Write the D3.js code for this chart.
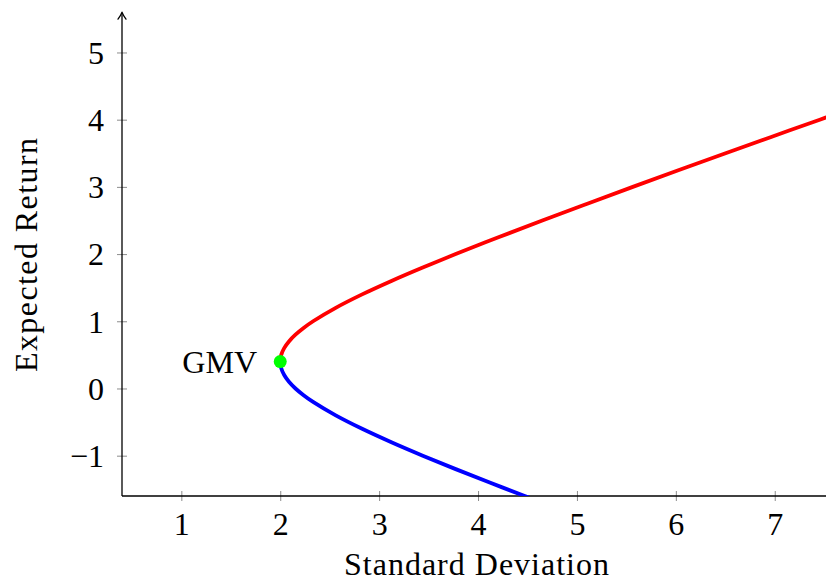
<!DOCTYPE html>
<html>
<head>
<meta charset="utf-8">
<script src="https://cdn.jsdelivr.net/npm/d3@7"></script>
<style>
  html, body { margin: 0; padding: 0; background: #fff; }
  svg { display: block; }
  text { font-family: "Liberation Serif", "Times New Roman", serif; fill: #000; }
</style>
</head>
<body>
<div id="chart"></div>
<script>
// ---- data ----
const xTicks = [1, 2, 3, 4, 5, 6, 7];
const yTicks = [-1, 0, 1, 2, 3, 4, 5];
const xLabel = "Standard Deviation";
const yLabel = "Expected Return";
const gmvLabel = "GMV";
const gmvPoint = { sd: 2.0, ret: 0.4 };
// upper (efficient) branch: [standard deviation, expected return]
const upperSd  = [2.000, 2.010, 2.040, 2.088, 2.154, 2.236, 2.332, 2.561, 2.828, 3.124, 3.441, 3.774, 4.206, 4.650, 5.105, 5.565, 6.032, 6.503, 6.978, 7.455, 7.646];
const upperRet = [0.40, 0.50, 0.60, 0.70, 0.80, 0.90, 1.00, 1.20, 1.40, 1.60, 1.80, 2.00, 2.25, 2.50, 2.75, 3.00, 3.25, 3.50, 3.75, 4.00, 4.10];
// lower (inefficient) branch
const lowerSd  = [2.000, 2.010, 2.040, 2.088, 2.154, 2.236, 2.332, 2.561, 2.828, 3.124, 3.441, 3.774, 4.118, 4.472, 4.652];
const lowerRet = [0.40, 0.30, 0.20, 0.10, 0.00, -0.10, -0.20, -0.40, -0.60, -0.80, -1.00, -1.20, -1.40, -1.60, -1.70];

// ---- layout ----
const W = 826, H = 581;
const left = 122, bottom = 496;
const xDomain = [0.4, 7.6], yDomain = [-1.6, 5.6];
const pxPerX = 98.9, pxPerY = 67.2;

const x = d3.scaleLinear().domain(xDomain)
  .range([left, left + (xDomain[1] - xDomain[0]) * pxPerX]);
const y = d3.scaleLinear().domain(yDomain)
  .range([bottom, bottom - (yDomain[1] - yDomain[0]) * pxPerY]);

const svg = d3.select("#chart").append("svg")
  .attr("width", W).attr("height", H);

svg.append("defs").append("clipPath").attr("id", "plotclip")
  .append("rect")
  .attr("x", x(xDomain[0])).attr("y", y(yDomain[1]))
  .attr("width", x(xDomain[1]) - x(xDomain[0]))
  .attr("height", y(yDomain[0]) - y(yDomain[1]));

// ---- axes ----
const fmt = d3.format("");
const xAxis = svg.append("g")
  .attr("transform", `translate(0,${bottom})`)
  .call(d3.axisBottom(x).tickValues(xTicks).tickFormat(fmt).tickSize(5).tickSizeOuter(0));
xAxis.select(".domain").remove();
xAxis.selectAll(".tick line").attr("y1", -5).attr("y2", 5)
  .attr("stroke", "#8c8c8c").attr("stroke-width", 1);
xAxis.selectAll(".tick text")
  .attr("y", 39).attr("dy", 0)
  .style("font-size", "32px").attr("fill", "#000");

const yAxis = svg.append("g")
  .attr("transform", `translate(${left},0)`)
  .call(d3.axisLeft(y).tickValues(yTicks).tickFormat(d => d < 0 ? "\u2212" + Math.abs(d) : String(d)).tickSize(5).tickSizeOuter(0));
yAxis.select(".domain").remove();
yAxis.selectAll(".tick line").attr("x1", -5).attr("x2", 5)
  .attr("stroke", "#8c8c8c").attr("stroke-width", 1);
yAxis.selectAll(".tick text")
  .attr("x", -18).attr("dy", "0.34em")
  .style("font-size", "32px").attr("fill", "#000");

// axis lines
svg.append("line")
  .attr("x1", left).attr("x2", W + 10)
  .attr("y1", bottom).attr("y2", bottom)
  .attr("stroke", "#000").attr("stroke-width", 1.3);
const yTop = y(yDomain[1]);
svg.append("line")
  .attr("x1", left).attr("x2", left)
  .attr("y1", bottom).attr("y2", yTop + 1)
  .attr("stroke", "#000").attr("stroke-width", 1.3);
// arrow head on y axis
svg.append("path")
  .attr("d", `M${left - 4},${yTop + 7} Q${left - 1},${yTop + 3} ${left},${yTop} Q${left + 1},${yTop + 3} ${left + 4},${yTop + 7}`)
  .attr("fill", "none").attr("stroke", "#000").attr("stroke-width", 1.3)
  .attr("stroke-linecap", "round").attr("stroke-linejoin", "round");

// ---- curves ----
const line = d3.line().x(d => x(d[0])).y(d => y(d[1])).curve(d3.curveCatmullRom);
const upper = upperSd.map((s, i) => [s, upperRet[i]]);
const lower = lowerSd.map((s, i) => [s, lowerRet[i]]);

const plot = svg.append("g").attr("clip-path", "url(#plotclip)");
plot.append("path").datum(lower).attr("d", line)
  .attr("fill", "none").attr("stroke", "#0000ff").attr("stroke-width", 3.8);
plot.append("path").datum(upper).attr("d", line)
  .attr("fill", "none").attr("stroke", "#ff0000").attr("stroke-width", 3.8);

svg.append("circle")
  .attr("cx", x(gmvPoint.sd)).attr("cy", y(gmvPoint.ret)).attr("r", 6.5)
  .attr("fill", "#00ff00");

svg.append("text")
  .attr("x", x(gmvPoint.sd) - 23).attr("y", y(gmvPoint.ret) + 11)
  .attr("text-anchor", "end")
  .attr("textLength", 75).attr("lengthAdjust", "spacingAndGlyphs")
  .style("font-size", "32px")
  .text(gmvLabel);

// ---- axis labels ----
svg.append("text")
  .attr("x", 344).attr("y", 575)
  .attr("textLength", 265).attr("lengthAdjust", "spacing")
  .style("font-size", "32px")
  .text(xLabel);

svg.append("text")
  .attr("transform", "translate(37,372) rotate(-90)")
  .attr("x", 0).attr("y", 0)
  .attr("textLength", 234).attr("lengthAdjust", "spacing")
  .style("font-size", "32px")
  .text(yLabel);
</script>
</body>
</html>
